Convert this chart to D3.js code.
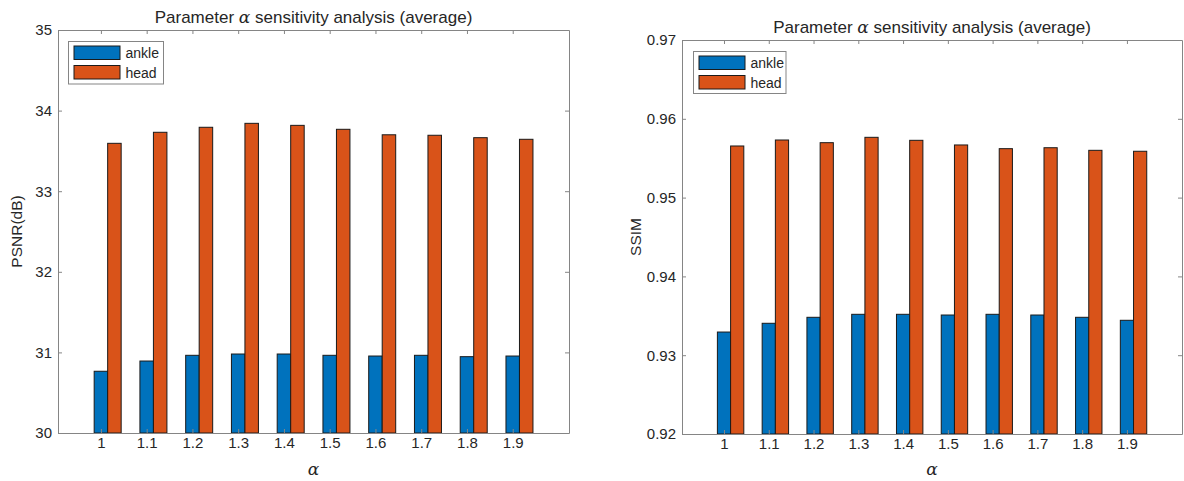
<!DOCTYPE html>
<html>
<head>
<meta charset="utf-8">
<script src="https://cdn.jsdelivr.net/npm/d3@7/dist/d3.min.js"></script>
<style>
  html, body { margin: 0; padding: 0; background: #fff; }
  svg { display: block; }
  text { font-family: "Liberation Sans", Arial, Helvetica, sans-serif; fill: #262626; }
</style>
</head>
<body>
<svg id="chart" width="1184" height="481"></svg>
<script>
// ---------- data ----------
const alphas = [1, 1.1, 1.2, 1.3, 1.4, 1.5, 1.6, 1.7, 1.8, 1.9];
const alphaLabels = ["1", "1.1", "1.2", "1.3", "1.4", "1.5", "1.6", "1.7", "1.8", "1.9"];
const seriesNames = ["ankle", "head"];
const psnrAnkle = [30.766, 30.893, 30.964, 30.980, 30.980, 30.964, 30.955, 30.964, 30.947, 30.955];
const psnrHead  = [33.594, 33.731, 33.793, 33.842, 33.817, 33.768, 33.700, 33.694, 33.664, 33.644];
const ssimAnkle = [0.93294, 0.93405, 0.93481, 0.93519, 0.93519, 0.93510, 0.93519, 0.93510, 0.93481, 0.93443];
const ssimHead  = [0.95655, 0.95731, 0.95697, 0.95765, 0.95727, 0.95668, 0.95621, 0.95633, 0.95600, 0.95588];
const psnrTicks = [30, 31, 32, 33, 34, 35];
const psnrTickLabels = ["30", "31", "32", "33", "34", "35"];
const ssimTicks = [0.92, 0.93, 0.94, 0.95, 0.96, 0.97];
const ssimTickLabels = ["0.92", "0.93", "0.94", "0.95", "0.96", "0.97"];
const colors = ["#0072BD", "#D95319"];

const svg = d3.select("#chart");

function panel(opts) {
  const { left, right, top, bottom, yDomain, yTicks, yTickLabels, series, ylabel, legendBox } = opts;
  const g = svg.append("g");
  const x = d3.scaleLinear().domain([0.9062, 2.023]).range([left, right]);
  const y = d3.scaleLinear().domain(yDomain).range([bottom, top]);
  const barW = 0.0295;

  // bars
  series.forEach((vals, si) => {
    g.append("g").selectAll("rect").data(vals).join("rect")
      .attr("x", (d, i) => x(alphas[i] - barW / 2 + si * barW))
      .attr("width", x(alphas[0] + barW) - x(alphas[0]))
      .attr("y", d => y(d))
      .attr("height", d => y(yDomain[0]) - y(d))
      .attr("fill", colors[si])
      .attr("stroke", "#1a1a1a")
      .attr("stroke-width", 1);
  });

  const axisColor = "#858585";
  const xAxisB = d3.axisBottom(x).tickValues(alphas).tickFormat((d, i) => alphaLabels[i]).tickSizeInner(-4).tickSizeOuter(0).tickPadding(4);
  const xAxisT = d3.axisTop(x).tickValues(alphas).tickFormat("").tickSizeInner(-4).tickSizeOuter(0);
  const yAxisL = d3.axisLeft(y).tickValues(yTicks).tickFormat((d, i) => yTickLabels[i]).tickSizeInner(-4).tickSizeOuter(0).tickPadding(6);
  const yAxisR = d3.axisRight(y).tickValues(yTicks).tickFormat("").tickSizeInner(-4).tickSizeOuter(0);

  const styleAxis = sel => {
    sel.select(".domain").attr("stroke", axisColor);
    sel.selectAll(".tick line").attr("stroke", axisColor);
    sel.selectAll(".tick text").attr("fill", "#262626").style("font-size", "15px")
      .style("font-family", '"Liberation Sans", Arial, sans-serif');
  };
  g.append("g").attr("transform", `translate(0,${bottom})`).call(xAxisB).call(styleAxis);
  g.append("g").attr("transform", `translate(0,${top})`).call(xAxisT).call(styleAxis);
  g.append("g").attr("transform", `translate(${left},0)`).call(yAxisL).call(styleAxis);
  g.append("g").attr("transform", `translate(${right},0)`).call(yAxisR).call(styleAxis);

  // title
  const cx = (left + right) / 2;
  const t = g.append("text").attr("x", cx).attr("y", top - 7).attr("text-anchor", "middle")
    .style("font-size", "17px");
  t.append("tspan").text("Parameter ");
  t.append("tspan").text("α").style("font-family", '"DejaVu Serif", "Liberation Serif", serif').style("font-style", "italic");
  t.append("tspan").text(" sensitivity analysis (average)");

  // x label
  g.append("text").attr("x", cx).attr("y", 475).attr("text-anchor", "middle")
    .style("font-size", "17px").style("font-family", '"DejaVu Serif", "Liberation Serif", serif').style("font-style", "italic")
    .text("α");

  // y label
  g.append("text").attr("transform", `translate(${opts.ylabelX},${(top + bottom) / 2}) rotate(-90)`)
    .attr("text-anchor", "middle").style("font-size", "15.5px").text(ylabel);

  // legend
  const lb = legendBox;
  g.append("rect").attr("x", lb.x).attr("y", lb.y).attr("width", lb.w).attr("height", lb.h)
    .attr("fill", "#fff").attr("stroke", axisColor).attr("stroke-width", 1);
  seriesNames.forEach((name, si) => {
    const yy = lb.y + 4.5 + si * 19.5;
    g.append("rect").attr("x", lb.x + 5.5).attr("y", yy).attr("width", 46).attr("height", 13.5)
      .attr("fill", colors[si]).attr("stroke", "#1a1a1a").attr("stroke-width", 1);
    g.append("text").attr("x", lb.x + 57).attr("y", yy + 12).style("font-size", "14px").text(name);
  });
}

panel({
  left: 58, right: 569, top: 30, bottom: 433,
  yDomain: [30, 35], yTicks: psnrTicks, yTickLabels: psnrTickLabels,
  series: [psnrAnkle, psnrHead], ylabel: "PSNR(dB)", ylabelX: 22,
  legendBox: { x: 68.5, y: 41.5, w: 95, h: 42.5 }
});

panel({
  left: 682, right: 1182, top: 40, bottom: 434,
  yDomain: [0.92, 0.97], yTicks: ssimTicks, yTickLabels: ssimTickLabels,
  series: [ssimAnkle, ssimHead], ylabel: "SSIM", ylabelX: 641,
  legendBox: { x: 693.5, y: 51.5, w: 92.5, h: 42 }
});
</script>
</body>
</html>
